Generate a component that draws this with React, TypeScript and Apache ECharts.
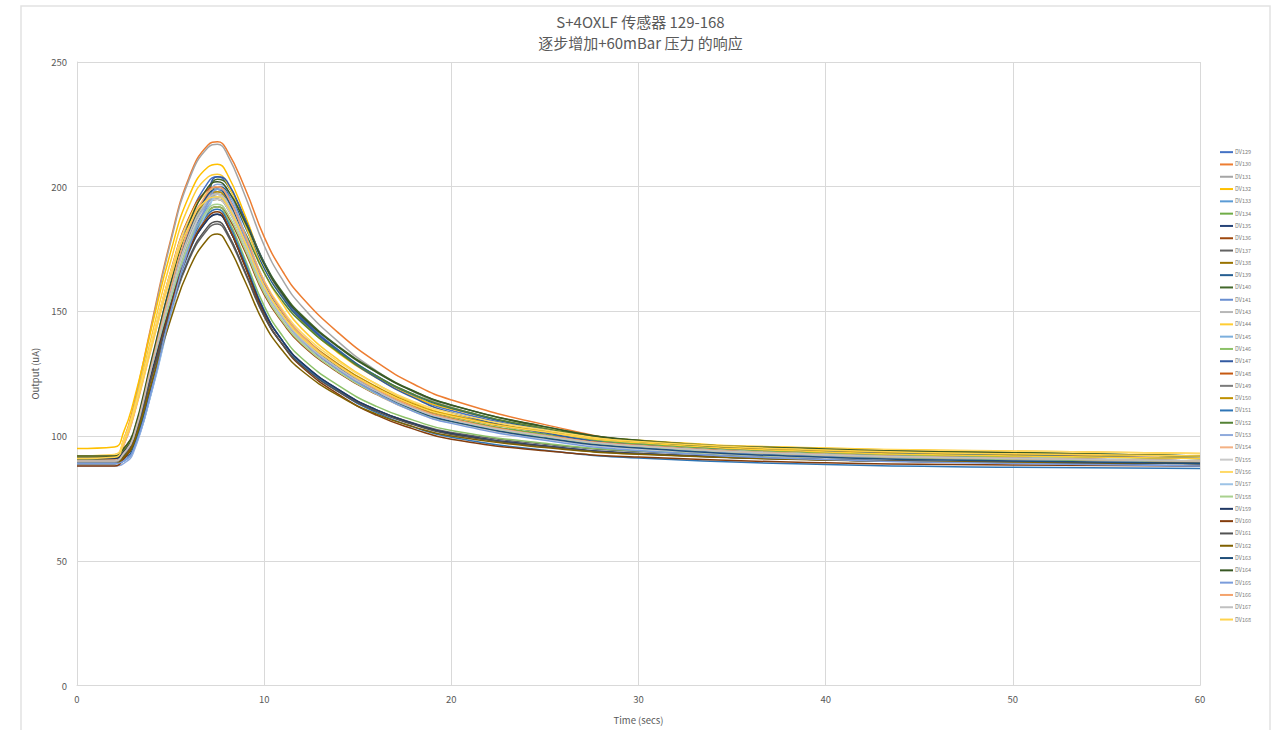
import React, { useEffect, useRef } from "react";
import * as echarts from "echarts";

// Sample times (seconds)
const times = [0, 2, 2.5, 3, 4, 5, 6, 7, 7.5, 8, 9, 10, 11, 12, 14, 16, 18, 20, 25, 30, 40, 50, 60];

// Sensor output (uA) per sensor at the sample times
const DV129 = [90, 90, 93.2, 99.6, 130.5, 161.4, 186.9, 201.7, 204, 201.1, 186.8, 169.5, 156.9, 147.7, 134.4, 124.1, 116, 110.3, 102.2, 96.6, 92.5, 90.4, 89];
const DV130 = [91, 91.6, 98.6, 111.3, 145.6, 178.6, 204, 216.7, 218, 214.8, 199, 179.9, 165.9, 155.8, 141.2, 129.7, 120.8, 114.5, 104.6, 98, 94, 92.5, 91];
const DV131 = [90, 90.6, 97.6, 110.3, 144.6, 177.6, 203, 215.7, 217, 213.4, 196, 176.4, 162.4, 152.2, 137.6, 126.2, 117.7, 111.6, 102.6, 97.3, 93.2, 91.3, 90];
const DV132 = [95, 95.6, 101.8, 113.2, 144, 173.7, 196.5, 207.9, 209, 205.5, 188.1, 168.9, 155.9, 146.1, 133.1, 123.4, 115.7, 110.9, 103, 98.3, 95.2, 94, 93];
const DV133 = [89, 89, 90.1, 94, 118.7, 149.5, 175.9, 193.5, 199, 197.4, 179.4, 161.3, 149.1, 139.9, 127.7, 118.6, 111.4, 106.8, 100.1, 96.1, 92.5, 91, 90];
const DV134 = [91, 91, 93.9, 99.8, 128.3, 156.7, 180.3, 193.9, 196, 192.9, 177.1, 159.7, 147.9, 139.1, 127.3, 118.5, 111.6, 107.2, 100.8, 96.9, 93.4, 91.9, 91];
const DV135 = [90, 90, 92.8, 98.3, 125.1, 152, 174.2, 187, 189, 185, 168, 150, 138, 129.5, 118.5, 110.5, 105, 101, 96, 93, 90.5, 89.5, 89];
const DV136 = [89, 89, 91.9, 97.7, 125.6, 153.5, 176.6, 189.9, 192, 188.9, 173.6, 156.7, 145.3, 136.7, 125.3, 116.7, 110, 105.7, 99.5, 95.7, 92.3, 90.9, 90];
const DV137 = [91, 91, 93.6, 98.9, 124.4, 149.8, 170.9, 183.1, 185, 181.2, 165, 148, 136.6, 128.5, 118, 110.4, 105.2, 101.4, 96.7, 93.8, 91.4, 90.5, 90];
const DV138 = [92, 92, 94.9, 100.7, 128.6, 156.5, 179.6, 192.9, 195, 191.9, 176.5, 159.4, 147.8, 139.2, 127.6, 119, 112.2, 107.9, 101.6, 97.8, 94.4, 92.9, 92];
const DV139 = [90, 90, 91.1, 95, 119.7, 150.5, 176.9, 194.5, 200, 198.4, 183.7, 167.3, 155.3, 146.6, 134.1, 124.2, 116.6, 111.2, 102.6, 97.5, 93.8, 92.3, 91];
const DV140 = [91, 91, 92.1, 96, 121.2, 152.6, 179.5, 197.4, 203, 201.3, 186.4, 169.7, 157.5, 148.6, 135.8, 125.9, 118.1, 112.5, 103.8, 98.3, 94.8, 93.3, 92];
const DV141 = [89, 89, 90.1, 93.9, 118.4, 149, 175.1, 192.6, 198, 196.4, 178.4, 160.3, 148.1, 138.9, 126.7, 117.6, 110.4, 105.8, 99.1, 95.1, 91.5, 90, 89];
const DV143 = [90, 90, 93, 98.9, 127.6, 156.4, 180.1, 193.9, 196, 192.8, 176.9, 159.3, 147.5, 138.5, 126.7, 117.8, 110.8, 106.3, 99.9, 95.9, 92.4, 91, 90];
const DV144 = [92, 92.6, 98.8, 110.1, 140.6, 170, 192.6, 203.9, 205, 201.6, 184.5, 165.6, 152.8, 143.2, 130.4, 120.9, 113.3, 108.6, 101.6, 97.4, 93.6, 92, 91];
const DV145 = [89, 89, 90.1, 93.9, 118.2, 148.4, 174.3, 191.6, 197, 195.4, 177.6, 159.6, 147.5, 138.5, 126.4, 117.3, 110.2, 105.6, 99, 95, 91.5, 90, 89];
const DV146 = [90, 90, 92.9, 98.6, 126.2, 153.9, 176.7, 190, 192, 187.9, 170.6, 152.2, 140, 131.3, 120.1, 111.9, 106.3, 102.2, 97.1, 94.1, 91.5, 90.5, 90];
const DV147 = [89, 89, 90.2, 94.2, 120, 152.3, 179.9, 198.3, 204, 202.3, 186.6, 169.2, 156.4, 147.2, 133.8, 123.4, 115.3, 109.5, 101.3, 96.1, 91.5, 89.4, 88];
const DV148 = [90, 90.6, 96.6, 107.6, 137.3, 165.9, 187.9, 198.9, 200, 196.7, 180.2, 161.9, 149.6, 140.4, 128.1, 118.8, 111.6, 106.9, 100.2, 96.2, 92.5, 91, 90];
const DV149 = [90, 90, 92.9, 98.8, 127.3, 155.7, 179.3, 192.9, 195, 191.9, 176.1, 158.7, 146.9, 138.1, 126.3, 117.5, 110.6, 106.2, 99.8, 95.9, 92.4, 90.9, 90];
const DV150 = [91, 91, 94, 100, 129, 158, 181.9, 195.9, 198, 194.8, 178.9, 161.3, 149.5, 140.5, 128.7, 119.8, 112.8, 108.3, 101.9, 97.9, 94.4, 93, 92];
const DV151 = [90, 90, 92.8, 98.5, 125.9, 153.2, 175.9, 189, 191, 186.8, 169.2, 150.4, 138, 129.1, 117.7, 109.4, 103.6, 99.5, 94.3, 91.2, 88.6, 87.5, 87];
const DV152 = [91, 91, 94, 99.9, 128.6, 157.4, 181.1, 194.9, 197, 194.4, 181.3, 165.5, 154, 145.6, 133.5, 124, 116.7, 111.4, 103.1, 97.9, 94.7, 93.3, 92];
const DV153 = [88, 88, 89.1, 93.1, 118.5, 150.2, 177.3, 195.4, 201, 199.3, 180.8, 162.2, 149.7, 140.3, 127.8, 118.3, 111, 106.2, 99.4, 95.3, 91.6, 90, 89];
const DV154 = [90, 90.5, 96.4, 107.1, 136, 163.8, 185.2, 195.9, 197, 193.8, 177.7, 160, 148, 139, 127, 118, 111, 106.5, 100, 96, 92.5, 91, 90];
const DV155 = [90, 90, 92.9, 98.8, 127.3, 155.7, 179.3, 192.9, 195, 191.8, 175.9, 158.3, 146.5, 137.5, 125.7, 116.8, 109.8, 105.3, 98.9, 94.9, 91.4, 90, 89];
const DV156 = [92, 92.5, 98.4, 109.1, 138, 165.8, 187.2, 197.9, 199, 195.8, 179.9, 162.3, 150.5, 141.5, 129.7, 120.8, 113.8, 109.3, 102.4, 98, 95, 94, 93];
const DV157 = [89, 89, 90.1, 93.8, 117.9, 147.9, 173.5, 190.7, 196, 194.4, 176.9, 159.3, 147.5, 138.5, 126.7, 117.8, 110.8, 106.3, 99.9, 95.9, 92.4, 91, 90];
const DV158 = [90, 90, 92.9, 98.7, 126.6, 154.5, 177.6, 190.9, 193, 189.9, 174.5, 157.4, 145.8, 137.2, 125.6, 117, 110.2, 105.9, 99.6, 95.8, 92.4, 90.9, 90];
const DV159 = [91, 91, 93.7, 99.2, 125.8, 152.3, 174.3, 187, 189, 185, 168, 150, 138, 129.5, 118.5, 110.5, 105, 101, 96, 93, 90.5, 89.5, 89];
const DV160 = [88, 88, 90.9, 96.6, 124.2, 151.9, 174.7, 188, 190, 185.4, 167.6, 148.7, 136.5, 127.8, 116.6, 108.4, 102.8, 98.7, 94.1, 91.6, 89.3, 88.4, 88];
const DV161 = [90, 90, 92.7, 98.1, 124.1, 150.1, 171.6, 184.1, 186, 182.1, 165.6, 148.2, 136.5, 128.3, 117.6, 109.9, 104.5, 100.6, 95.8, 92.9, 90.5, 89.5, 89];
const DV162 = [89, 89, 91.6, 96.7, 121.7, 146.6, 167.2, 179.2, 181, 177.3, 161.7, 145.1, 134.1, 126.3, 116.1, 108.8, 103.7, 100, 95.4, 92.7, 90.4, 89.5, 89];
const DV163 = [90, 90, 93.1, 99.2, 128.7, 158.2, 182.7, 196.8, 199, 195.7, 179.2, 160.9, 148.6, 139.4, 127.1, 117.8, 110.6, 105.9, 99.2, 95.2, 91.5, 90, 89];
const DV164 = [92, 92, 95.1, 101.2, 131.1, 160.9, 185.5, 199.8, 202, 199.3, 185.5, 169, 156.9, 148.1, 135.5, 125.6, 117.9, 112.4, 103.7, 98.2, 94.8, 93.3, 92];
const DV165 = [89, 89, 90.1, 94, 118.7, 149.5, 175.9, 193.5, 199, 197.3, 179, 160.6, 148.2, 138.8, 126.4, 117.1, 109.8, 105.1, 98.3, 94.2, 90.6, 89, 88];
const DV166 = [90, 90, 93.1, 99.2, 129.1, 158.9, 183.5, 197.8, 200, 196.7, 180.2, 161.9, 149.6, 140.4, 128.1, 118.8, 111.6, 106.9, 100.2, 96.2, 92.5, 91, 90];
const DV167 = [90, 90, 93, 99, 128, 157, 181, 194.9, 197, 193.8, 177.7, 160, 148, 139, 127, 118, 111, 106.5, 100, 96, 92.5, 91, 90];
const DV168 = [91, 91.5, 97.3, 107.8, 136.2, 163.5, 184.5, 195, 196, 192.9, 177.3, 160, 148.4, 139.6, 128, 119.2, 112.4, 108, 101.7, 97.8, 94.4, 92.9, 92];

const sensorNames = [
  "DV129", "DV130", "DV131", "DV132", "DV133", "DV134", "DV135", "DV136", "DV137", "DV138",
  "DV139", "DV140", "DV141", "DV143", "DV144", "DV145", "DV146", "DV147", "DV148", "DV149",
  "DV150", "DV151", "DV152", "DV153", "DV154", "DV155", "DV156", "DV157", "DV158", "DV159",
  "DV160", "DV161", "DV162", "DV163", "DV164", "DV165", "DV166", "DV167", "DV168",
];

const sensorValues = [
  DV129, DV130, DV131, DV132, DV133, DV134, DV135, DV136, DV137, DV138,
  DV139, DV140, DV141, DV143, DV144, DV145, DV146, DV147, DV148, DV149,
  DV150, DV151, DV152, DV153, DV154, DV155, DV156, DV157, DV158, DV159,
  DV160, DV161, DV162, DV163, DV164, DV165, DV166, DV167, DV168,
];

const sensorColors = [
  "#4472C4", "#ED7D31", "#A5A5A5", "#FFC000", "#5B9BD5", "#70AD47", "#264478", "#9E480E", "#636363", "#997300",
  "#255E91", "#43682B", "#698ED0", "#B7B7B7", "#FFCD33", "#7CAFDD", "#8CC168", "#335AA1", "#C65911", "#7B7B7B",
  "#BF9000", "#2E75B6", "#548235", "#8FAADC", "#F4B183", "#C9C9C9", "#FFD966", "#9DC3E6", "#A9D18E", "#203864",
  "#843C0C", "#525252", "#7F6000", "#1F4E79", "#385723", "#7A9CDB", "#F4A36C", "#C0C0C0", "#FFD34D",
];

const xTicks = { min: 0, max: 60, interval: 10 };
const yTicks = { min: 0, max: 250, interval: 50 };

const titleText = "S+4OXLF 传感器 129-168\n逐步增加+60mBar 压力 的响应";
const FONT = "'Noto Sans CJK SC', 'Noto Sans', sans-serif";
const TEXT_GRAY = "#595959";
const LEGEND_GRAY = "#808080";
const GRID_GRAY = "#d9d9d9";

export default function App() {
  const ref = useRef<HTMLDivElement>(null);

  useEffect(() => {
    if (!ref.current) return;
    const chart = echarts.init(ref.current, undefined, { renderer: "svg" });

    const series = sensorNames.map((name, i) => ({
      name,
      type: "line",
      data: times.map((t, k) => [t, sensorValues[i][k]]),
      showSymbol: false,
      symbol: "none",
      smooth: 0.5,
      lineStyle: { width: 1.5, color: sensorColors[i] },
      itemStyle: { color: sensorColors[i] },
      emphasis: { disabled: true },
    }));

    chart.setOption({
      animation: false,
      backgroundColor: "#ffffff",
      textStyle: { fontFamily: FONT },
      title: {
        text: titleText,
        left: "center",
        top: 6,
        textStyle: {
          fontFamily: FONT,
          fontSize: 15,
          fontWeight: "normal",
          color: TEXT_GRAY,
          lineHeight: 21,
        },
      },
      graphic: [
        {
          type: "rect",
          shape: { x: 21, y: 6, width: 1249, height: 740 },
          style: { fill: "none", stroke: "#e2e2e2", lineWidth: 1.5 },
          silent: true,
        },
      ],
      legend: {
        orient: "vertical",
        left: 1215,
        top: 141,
        icon: "rect",
        itemWidth: 13,
        itemHeight: 2,
        itemGap: 0,
        textStyle: {
          fontFamily: FONT,
          fontSize: 5.5,
          color: LEGEND_GRAY,
          lineHeight: 12.3,
          padding: [0, 0, 0, -3],
        },
        data: sensorNames,
      },
      grid: { left: 77, right: 81, top: 62, bottom: 39, containLabel: false },
      xAxis: {
        type: "value",
        min: xTicks.min,
        max: xTicks.max,
        interval: xTicks.interval,
        name: "Time (secs)",
        nameLocation: "middle",
        nameGap: 30,
        nameTextStyle: { fontFamily: FONT, fontSize: 9.5, color: TEXT_GRAY },
        axisLine: { show: true, lineStyle: { color: GRID_GRAY, width: 1 } },
        axisTick: { show: false },
        axisLabel: { fontFamily: FONT, fontSize: 9.5, color: TEXT_GRAY, margin: 9 },
        splitLine: { show: true, lineStyle: { color: GRID_GRAY, width: 1 } },
      },
      yAxis: {
        type: "value",
        min: yTicks.min,
        max: yTicks.max,
        interval: yTicks.interval,
        name: "Output (uA)",
        nameLocation: "middle",
        nameGap: 37,
        nameTextStyle: { fontFamily: FONT, fontSize: 9.5, color: TEXT_GRAY },
        axisLine: { show: true, lineStyle: { color: GRID_GRAY, width: 1 } },
        axisTick: { show: false },
        axisLabel: { fontFamily: FONT, fontSize: 9.5, color: TEXT_GRAY, margin: 10 },
        splitLine: { show: true, lineStyle: { color: GRID_GRAY, width: 1 } },
      },
      series,
    });

    return () => chart.dispose();
  }, []);

  return (
    <div
      ref={ref}
      style={{ position: "fixed", left: 0, top: 0, width: 1281, height: 730, background: "#fff" }}
    />
  );
}
